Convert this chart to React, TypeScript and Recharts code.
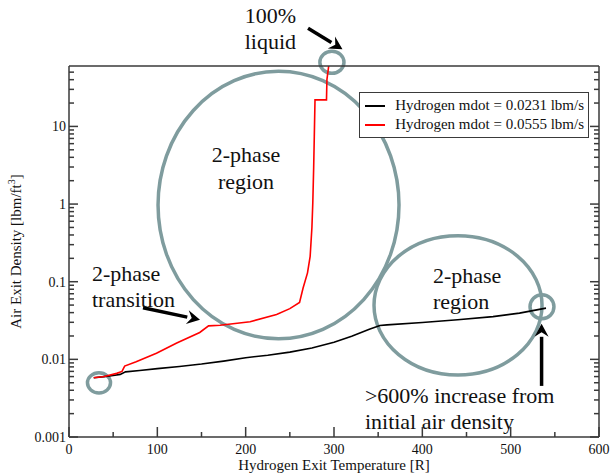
import React from 'react'
import {
  LineChart, Line, XAxis, YAxis, ReferenceArea, ReferenceLine, ReferenceDot, Legend
} from 'recharts'

// mdot = 0.0231 lbm/s
const lowFlowTemp = [28, 40, 50, 58, 64, 80, 100, 125, 150, 175, 200, 225, 250, 275, 300, 320, 340, 352, 360, 400, 440, 480, 510, 540]
const lowFlowDensity = [0.0058, 0.006, 0.0062, 0.0064, 0.0069, 0.0072, 0.0076, 0.0081, 0.0087, 0.0095, 0.0105, 0.0113, 0.0124, 0.014, 0.0166, 0.0198, 0.0245, 0.0273, 0.0278, 0.0298, 0.0324, 0.0355, 0.0394, 0.0457]

// mdot = 0.0555 lbm/s
const highFlowTemp = [28, 40, 54, 60, 63, 76, 99, 122, 148, 158, 171, 205, 235, 250, 261, 265, 270, 273, 275, 276, 277, 277.7, 278.5, 291.5, 292, 294]
const highFlowDensity = [0.0058, 0.006, 0.0066, 0.007, 0.0082, 0.0093, 0.012, 0.0162, 0.0222, 0.027, 0.0275, 0.0305, 0.0379, 0.045, 0.054, 0.083, 0.13, 0.212, 0.5, 1.04, 3, 7.5, 22, 22, 40, 60]

const seriesNames = ['Hydrogen mdot = 0.0231 lbm/s', 'Hydrogen mdot = 0.0555 lbm/s']
const seriesColors = ['#000000', '#ff0000']

const xTicks = [0, 50, 100, 150, 200, 250, 300, 350, 400, 450, 500, 550, 600]
const yTicks = [
  0.001, 0.002, 0.003, 0.004, 0.005, 0.006, 0.007, 0.008, 0.009,
  0.01, 0.02, 0.03, 0.04, 0.05, 0.06, 0.07, 0.08, 0.09,
  0.1, 0.2, 0.3, 0.4, 0.5, 0.6, 0.7, 0.8, 0.9,
  1, 2, 3, 4, 5, 6, 7, 8, 9,
  10, 20, 30, 40, 50
]
const yMajorLabels: Record<string, string> = { '0.001': '0.001', '0.01': '0.01', '0.1': '0.1', '1': '1', '10': '10' }

// annotations, in data units
const ellipses = [
  { x1: 100.8, x2: 373.6, y1: 0.0184, y2: 51.3 },
  { x1: 345.3, x2: 535.5, y1: 0.0063, y2: 0.392 },
  { x1: 20.9, x2: 47, y1: 0.0037, y2: 0.0067 },
  { x1: 284, x2: 311.3, y1: 48.3, y2: 92.9 },
  { x1: 521.9, x2: 549, y1: 0.0333, y2: 0.068 }
]
const arrows = [
  { from: { x: 270.6, y: 184 }, to: { x: 309.6, y: 98.6 } },
  { from: { x: 83.8, y: 0.0462 }, to: { x: 148.3, y: 0.0323 } },
  { from: { x: 535, y: 0.00455 }, to: { x: 535, y: 0.0287 } }
]
const notes = [
  { x: 228, y: 213, text: '100%', anchor: 'middle' },
  { x: 228, y: 98.6, text: 'liquid', anchor: 'middle' },
  { x: 200.4, y: 3.53, text: '2-phase', anchor: 'middle' },
  { x: 200.4, y: 1.585, text: 'region', anchor: 'middle' },
  { x: 26, y: 0.103, text: '2-phase', anchor: 'start' },
  { x: 26, y: 0.0476, text: 'transition', anchor: 'start' },
  { x: 412, y: 0.097, text: '2-phase', anchor: 'start' },
  { x: 412, y: 0.0449, text: 'region', anchor: 'start' },
  { x: 335, y: 0.00275, text: '>600% increase from', anchor: 'start' },
  { x: 335, y: 0.00127, text: 'initial  air density', anchor: 'start' }
]

const lowFlow = lowFlowTemp.map((x, i) => ({ x, y: lowFlowDensity[i] }))
const highFlow = highFlowTemp.map((x, i) => ({ x, y: highFlowDensity[i] }))

const FONT = 'Liberation Serif, DejaVu Serif, serif'
const AXIS = '#3a3a3a'
const RING = '#7f9c9e'

const BottomTick = (p: any) => {
  const v = p.payload.value
  const major = v % 100 === 0
  return (
    <g>
      <line x1={p.x} x2={p.x} y1={p.y} y2={p.y - (major ? 10 : 5)} stroke={AXIS} strokeWidth={1.5} />
      {major && (
        <text x={p.x} y={p.y + 17} textAnchor="middle" fontSize={14} fontFamily={FONT} fill="#111" stroke="none">{v}</text>
      )}
    </g>
  )
}

const TopTick = (p: any) => {
  const major = p.payload.value % 100 === 0
  return <line x1={p.x} x2={p.x} y1={p.y} y2={p.y + (major ? 10 : 5)} stroke={AXIS} strokeWidth={1.5} />
}

const isMajorY = (v: number) => Math.abs(Math.log10(v) - Math.round(Math.log10(v))) < 1e-6

const LeftTick = (p: any) => {
  const v = p.payload.value
  const major = isMajorY(v)
  return (
    <g>
      <line x1={p.x} x2={p.x + (major ? 9 : 5)} y1={p.y} y2={p.y} stroke={AXIS} strokeWidth={1.5} />
      {major && (
        <text x={p.x - 3} y={p.y + 5} textAnchor="end" fontSize={14} fontFamily={FONT} fill="#111" stroke="none">
          {yMajorLabels[String(v)]}
        </text>
      )}
    </g>
  )
}

const RightTick = (p: any) => {
  const major = isMajorY(p.payload.value)
  return <line x1={p.x} x2={p.x - (major ? 9 : 5)} y1={p.y} y2={p.y} stroke={AXIS} strokeWidth={1.5} />
}

const Arrow = (p: any) => {
  const { x1, y1, x2, y2 } = p
  const a = Math.atan2(y2 - y1, x2 - x1)
  const len = 13
  const w = 7
  const bx = x2 - len * Math.cos(a)
  const by = y2 - len * Math.sin(a)
  const pts = [
    [x2, y2],
    [bx + w * Math.sin(a), by - w * Math.cos(a)],
    [bx + 0.35 * len * Math.cos(a), by + 0.35 * len * Math.sin(a)],
    [bx - w * Math.sin(a), by + w * Math.cos(a)]
  ].map(q => q.join(',')).join(' ')
  return (
    <g>
      <line x1={x1} y1={y1} x2={bx} y2={by} stroke="#000" strokeWidth={3.5} />
      <polygon points={pts} fill="#000" />
    </g>
  )
}

const LegendBox = () => (
  <div style={{ border: `1.5px solid ${AXIS}`, background: '#fff', padding: '3px 4px 3px 5px', fontFamily: FONT, fontSize: 15, lineHeight: '19px', color: '#111' }}>
    {seriesNames.map((n, i) => (
      <div key={n} style={{ display: 'flex', alignItems: 'center', whiteSpace: 'nowrap' }}>
        <span style={{ display: 'inline-block', width: 23, height: 2, background: seriesColors[i], marginRight: 10 }} />
        {n}
      </div>
    ))}
  </div>
)

export default function App() {
  return (
    <div style={{ position: 'absolute', left: 0, top: 0, background: '#fff', fontFamily: FONT }}>
      <LineChart width={611} height={476} margin={{ top: 0, right: 0, bottom: 0, left: 0 }}>
        <XAxis
          xAxisId="b" type="number" dataKey="x" domain={[0, 600]} ticks={xTicks} interval={0}
          height={39} tickSize={0} tickMargin={0} tickLine={false} tick={<BottomTick />}
          axisLine={{ stroke: AXIS, strokeWidth: 1.5 }} allowDataOverflow
          label={{
            content: (lp: any) => (
              <text x={lp.viewBox.x + lp.viewBox.width / 2} y={lp.viewBox.y + 33} textAnchor="middle" fontSize={15} fontFamily={FONT} fill="#111">
                Hydrogen Exit Temperature [R]
              </text>
            )
          }}
        />
        <XAxis
          xAxisId="t" orientation="top" type="number" domain={[0, 600]} ticks={xTicks} interval={0}
          height={66} tickSize={0} tickMargin={0} tickLine={false} tick={<TopTick />}
          axisLine={{ stroke: AXIS, strokeWidth: 1.5 }} allowDataOverflow
        />
        <YAxis
          yAxisId="l" type="number" scale="log" domain={[0.001, 60]} ticks={yTicks} interval={0}
          width={69} tickSize={0} tickMargin={0} tickLine={false} tick={<LeftTick />}
          axisLine={{ stroke: AXIS, strokeWidth: 1.5 }} allowDataOverflow
          label={{
            content: (lp: any) => {
              const cx = 21
              const cy = lp.viewBox.y + lp.viewBox.height / 2
              return (
                <text x={cx} y={cy} transform={`rotate(-90 ${cx} ${cy})`} textAnchor="middle" fontSize={15} fontFamily={FONT} fill="#111">
                  Air Exit Density [lbm/ft<tspan dy={-6} fontSize={10}>3</tspan><tspan dy={6}>]</tspan>
                </text>
              )
            }
          }}
        />
        <YAxis
          yAxisId="r" orientation="right" type="number" scale="log" domain={[0.001, 60]} ticks={yTicks} interval={0}
          width={12} tickSize={0} tickMargin={0} tickLine={false} tick={<RightTick />}
          axisLine={{ stroke: AXIS, strokeWidth: 1.5 }} allowDataOverflow
        />
        <Legend
          layout="vertical" align="center" verticalAlign="middle"
          wrapperStyle={{ left: 359, top: 92, width: 230 }}
          content={() => <LegendBox />}
        />
        <Line xAxisId="b" yAxisId="l" data={lowFlow} dataKey="y" type="linear" stroke={seriesColors[0]} strokeWidth={1.6} dot={false} isAnimationActive={false} />
        <Line xAxisId="b" yAxisId="l" data={highFlow} dataKey="y" type="linear" stroke={seriesColors[1]} strokeWidth={1.6} dot={false} isAnimationActive={false} />
        {ellipses.map((e, i) => (
          <ReferenceArea
            key={`e${i}`} xAxisId="b" yAxisId="l" x1={e.x1} x2={e.x2} y1={e.y1} y2={e.y2} ifOverflow="visible"
            shape={(p: any) => (
              <ellipse cx={p.x + p.width / 2} cy={p.y + p.height / 2} rx={Math.abs(p.width) / 2} ry={Math.abs(p.height) / 2} fill="none" stroke={RING} strokeWidth={3.5} />
            )}
          />
        ))}
        {arrows.map((a, i) => (
          <ReferenceLine key={`a${i}`} xAxisId="b" yAxisId="l" segment={[a.from, a.to]} ifOverflow="visible" shape={(p: any) => <Arrow {...p} />} />
        ))}
        {notes.map((n, i) => (
          <ReferenceDot
            key={`n${i}`} xAxisId="b" yAxisId="l" x={n.x} y={n.y} r={0} ifOverflow="visible"
            shape={(p: any) => (
              <text x={p.cx} y={p.cy} textAnchor={n.anchor as any} fontSize={22} fontFamily={FONT} fill="#111">{n.text}</text>
            )}
          />
        ))}
      </LineChart>
    </div>
  )
}
